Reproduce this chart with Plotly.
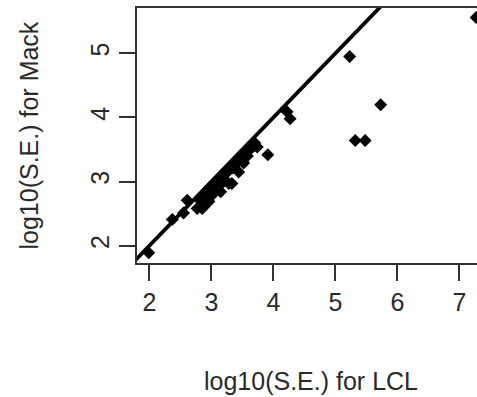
import plotly.graph_objects as go

# log10(S.E.) values
se_lcl = [1.99, 2.37, 2.55, 2.61, 2.77, 2.85, 2.88, 2.96, 3.04, 3.15, 3.28, 3.33,
          3.44, 3.52, 3.74, 3.91, 4.22, 4.27, 5.23, 5.32, 5.48,
          5.73, 7.27,
          2.80, 2.90, 2.95, 3.00, 3.08, 3.12, 3.18, 3.22, 3.26, 3.30, 3.36, 3.40,
          3.46, 3.50, 3.55, 3.60, 3.64, 3.58, 3.20, 2.92, 3.00, 3.10,
          2.84, 2.98, 3.05, 3.14, 3.24, 3.34, 3.43, 3.48, 3.53, 3.62, 3.68, 3.70]
se_mack = [1.89, 2.41, 2.51, 2.71, 2.58, 2.58, 2.61, 2.69, 2.82, 2.84, 2.97, 2.97,
           3.15, 3.29, 3.54, 3.42, 4.09, 3.98, 4.95, 3.64, 3.64,
           4.20, 5.56,
           2.72, 2.80, 2.88, 2.93, 3.00, 3.05, 3.10, 3.15, 3.18, 3.22, 3.28, 3.33,
           3.38, 3.42, 3.47, 3.52, 3.56, 3.40, 3.00, 2.70, 2.78, 2.92,
           2.74, 2.88, 2.94, 3.03, 3.13, 3.21, 3.30, 3.36, 3.41, 3.50, 3.55, 3.60]

line_x = [1.0, 8.0]
line_y = [1.0, 8.0]

x_ticks = [2, 3, 4, 5, 6, 7]
y_ticks = [2, 3, 4, 5]

FONT = "Liberation Sans, Arial, sans-serif"
W, H = 477, 397
ML, MT, MB, MR = 137, 8, 134, 0

fig = go.Figure()
fig.add_trace(go.Scatter(x=line_x, y=line_y, mode="lines",
                         line=dict(color="black", width=3.8), hoverinfo="skip"))
fig.add_trace(go.Scatter(x=se_lcl, y=se_mack, mode="markers",
                         marker=dict(symbol="diamond", size=10, color="black",
                                     line=dict(width=0))))

fig.update_layout(
    width=W, height=H,
    margin=dict(l=ML, r=MR, t=MT, b=MB, pad=0),
    paper_bgcolor="white", plot_bgcolor="white",
    showlegend=False,
    font=dict(family=FONT, size=25, color="#2a2a2a"),
)
fig.update_xaxes(range=[1.80, 1.80 + (W - ML - MR) / 62.0],
                 tickvals=x_ticks, ticktext=[str(v) for v in x_ticks],
                 ticks="outside", ticklen=16, tickwidth=2, tickcolor="#333",
                 showline=True, linecolor="#333", linewidth=2, mirror=True,
                 showgrid=False, zeroline=False,
                 tickfont=dict(size=25, color="#2a2a2a"))
fig.update_yaxes(range=[1.73, 5.707],
                 tickvals=y_ticks, ticktext=[str(v) for v in y_ticks],
                 ticks="outside", ticklen=16, tickwidth=2, tickcolor="#333",
                 showline=True, linecolor="#333", linewidth=2, mirror=False,
                 showgrid=False, zeroline=False, tickangle=-90,
                 tickfont=dict(size=25, color="#2a2a2a"))

fig.add_annotation(text="log10(S.E.) for LCL", xref="paper", yref="paper",
                   x=(311 - ML) / (W - ML - MR), y=-(381 - (H - MB)) / (H - MB - MT),
                   xanchor="center", yanchor="middle", showarrow=False,
                   font=dict(size=25, color="#2a2a2a"))
fig.add_annotation(text="log10(S.E.) for Mack", xref="paper", yref="paper",
                   x=-(ML - 28) / (W - ML - MR), y=0.5, textangle=-90,
                   xanchor="center", yanchor="middle", showarrow=False,
                   font=dict(size=25, color="#2a2a2a"))

fig.write_html("out.html")
